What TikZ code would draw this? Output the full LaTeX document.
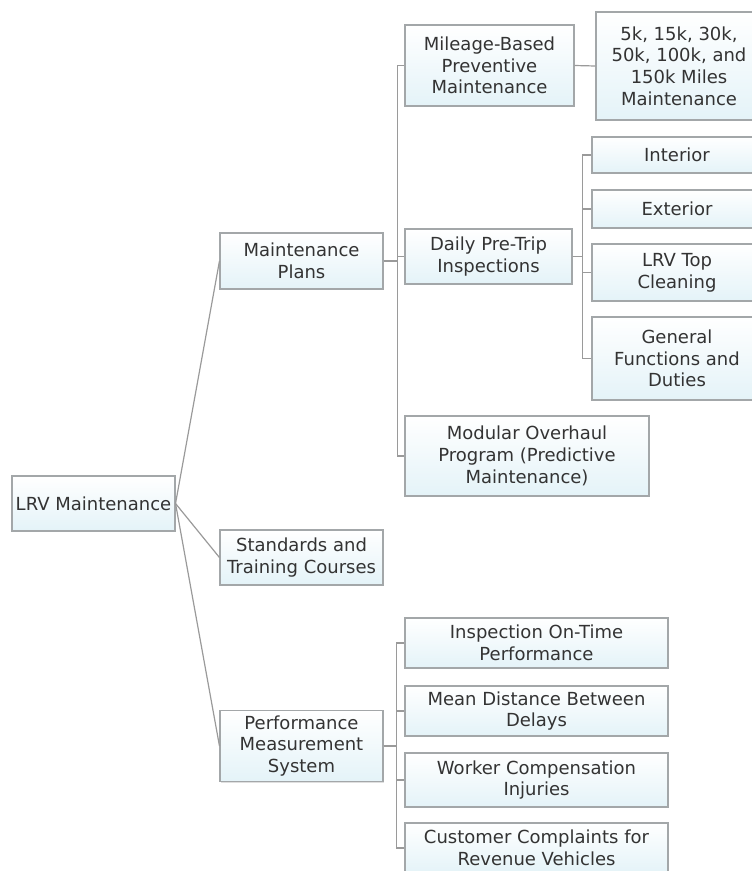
\documentclass[tikz,border=0pt]{standalone}
\usepackage{fontspec}
\setmainfont{DejaVu Sans}
\usetikzlibrary{shadows}
\definecolor{boxline}{HTML}{A3A7A9}
\definecolor{linkgray}{HTML}{9A9A9A}
\definecolor{boxfill}{HTML}{E4F3F8}
\definecolor{txt}{HTML}{333333}
\tikzset{
  topic/.style={draw=boxline, line width=0.8pt, top color=white, bottom color=boxfill,
    align=center, text=txt, inner sep=0pt,
    font=\fontsize{13.5}{16.3}\selectfont,
    drop shadow={opacity=0.25, shadow xshift=0.8pt, shadow yshift=-0.8pt}},
  link/.style={draw=linkgray, line width=0.9pt}
}
\begin{document}
\begin{tikzpicture}[x=0.75pt, y=-0.75pt]
		\useasboundingbox (0,0) rectangle (752,871);
		\clip (0,0) rectangle (752,871);
		% root and first level
		\node[topic, minimum width=122.25pt, minimum height=41.25pt] (lrv) at (93.5,503.5) {LRV Maintenance};
		\node[topic, minimum width=122.25pt, minimum height=42pt] (plans) at (301.5,261) {Maintenance\\Plans};
		\node[topic, minimum width=122.25pt, minimum height=41.25pt] (stand) at (301.5,557.5) {Standards and\\Training Courses};
		\node[topic, minimum width=122.25pt, minimum height=53.25pt] (perf) at (301.5,746) {Performance\\Measurement\\System};
		% maintenance plans
		\node[topic, minimum width=126.75pt, minimum height=60.75pt] (mile) at (489.5,65.5) {Mileage-Based\\Preventive\\Maintenance};
		\node[topic, minimum width=125.25pt, minimum height=41.25pt] (daily) at (488.5,256.5) {Daily Pre-Trip\\Inspections};
		\node[topic, minimum width=183pt, minimum height=60pt] (over) at (527,456) {Modular Overhaul\\Program (Predictive\\Maintenance)};
		\node[topic, minimum width=124.5pt, minimum height=81pt] (miles) at (679,66) {5k, 15k, 30k,\\50k, 100k, and\\150k Miles\\Maintenance};
		% daily inspections
		\node[topic, minimum width=127.5pt, minimum height=27pt] (inter) at (677,155) {Interior};
		\node[topic, minimum width=127.5pt, minimum height=28.5pt] (exter) at (677,209) {Exterior};
		\node[topic, minimum width=127.5pt, minimum height=42.75pt] (roof) at (677,272.5) {LRV Top\\Cleaning};
		\node[topic, minimum width=127.5pt, minimum height=62.25pt] (duty) at (677,358.5) {General\\Functions and\\Duties};
		% performance measurement
		\node[topic, minimum width=197.25pt, minimum height=37.5pt] (ontime) at (536.5,643) {Inspection On-Time\\Performance};
		\node[topic, minimum width=197.25pt, minimum height=37.5pt] (delay) at (536.5,711) {Mean Distance Between\\Delays};
		\node[topic, minimum width=197.25pt, minimum height=40.5pt] (injury) at (536.5,780) {Worker Compensation\\Injuries};
		\node[topic, minimum width=197.25pt, minimum height=37.5pt] (claim) at (536.5,848) {Customer Complaints for\\Revenue Vehicles};
		% connectors
		\foreach \c in {plans,stand,perf}
			\draw[link] (lrv.east) -- (\c.west);
		\foreach \c in {mile,daily,over}
			\draw[link] (plans.east) -- ++(14,0) |- (\c.west);
		\foreach \c in {inter,exter,roof,duty}
			\draw[link] (daily.east) -- ++(10,0) |- (\c.west);
		\foreach \c in {ontime,delay,injury,claim}
			\draw[link] (perf.east) -- ++(13,0) |- (\c.west);
		\draw[link] (mile.east) -- (miles.west);
\end{tikzpicture}
\end{document}
